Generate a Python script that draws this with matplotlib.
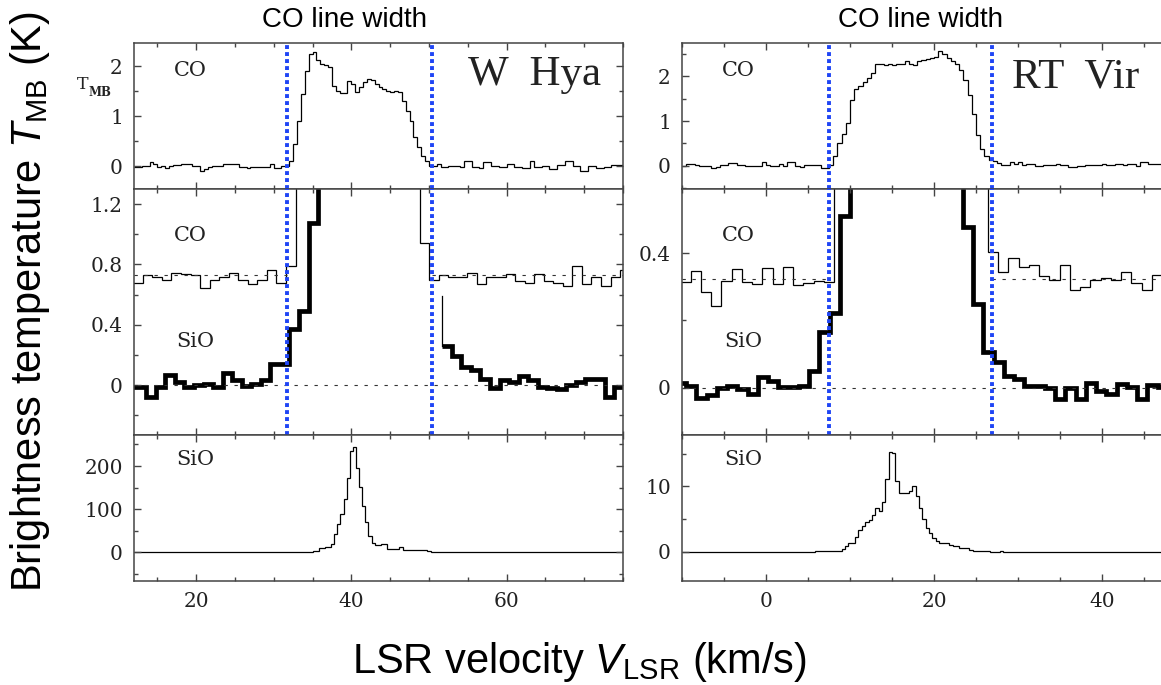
import numpy as np
import matplotlib.pyplot as plt
from matplotlib.ticker import MultipleLocator, FuncFormatter

nan = np.nan

# ---------------- W Hya ----------------
whya_xlim = (12, 75)
whya_width = [31.7, 50.4]          # CO line width markers (km/s)

# CO, top panel (0.5 km/s channels from 12 km/s)
whya_co_start, whya_co_dv = 12.0, 0.5
whya_co = [-0.02, -0.02, 0.01, 0.01, 0.08, 0.04, -0.02, 0.0, -0.04, 0.0,
           0.03, 0.03, 0.05, 0.05, 0.05, 0.01, 0.01, -0.09, -0.05, -0.02,
           0.0, 0.0, 0.0, 0.05, 0.05, 0.05, 0.05, -0.02, -0.02, -0.04,
           -0.01, -0.01, -0.02, -0.02, -0.02, 0.05, -0.04, -0.04, 0.01, 0.01,
           0.1, 0.45, 0.9, 1.45, 1.9, 2.25, 2.28, 2.13, 2.05, 2.03,
           1.98, 1.61, 1.51, 1.46, 1.46, 1.71, 1.65, 1.48, 1.58, 1.68,
           1.75, 1.73, 1.65, 1.58, 1.55, 1.5, 1.48, 1.51, 1.48, 1.31,
           1.11, 0.91, 0.58, 0.38, 0.21, 0.11, 0.01, 0.01, 0.05, -0.02,
           -0.02, 0.01, 0.01, 0.01, -0.02, 0.1, 0.1, -0.02, -0.02, -0.04,
           0.08, 0.08, 0.01, 0.01, -0.01, -0.01, 0.05, 0.05, -0.02, -0.02,
           -0.03, -0.03, 0.1, -0.01, -0.01, 0.01, 0.01, -0.05, -0.05, 0.03,
           0.03, 0.11, 0.11, 0.01, 0.01, -0.09, -0.09, 0.01, 0.01, -0.03,
           -0.03, -0.02, -0.02, 0.03, 0.03, 0.03]

# CO, middle panel (offset, coarser channels)
whya_co_mid_start, whya_co_mid_dv = 10.67, 1.23
whya_co_mid = [0.678, 0.678, 0.733, 0.72, 0.70, 0.745, 0.735, 0.73, 0.644, 0.70,
               0.72, 0.745, 0.70, 0.67, 0.70, 0.76, 0.68, 0.79,
               1.5, 2.9, 2.8, 2.4, 2.2, 2.3, 2.4, 2.3, 2.2, 2.2, 2.0, 1.6, 1.4,
               0.944, 0.70, 0.733, 0.72, 0.72, 0.744, 0.67, 0.72, 0.72, 0.74,
               0.69, 0.68, 0.74, 0.69, 0.68, 0.66, 0.79, 0.67, 0.72, 0.66,
               0.72, 0.76]
whya_co_mid_base = 0.727

# SiO, middle panel (zoomed)
whya_sio_mid_start, whya_sio_mid_dv = 11.12, 1.23
whya_sio_mid = [-0.01, -0.01, -0.078, -0.01, 0.067, 0.022, -0.01, 0.0, 0.007, -0.01,
                0.078, 0.033, -0.007, 0.011, 0.033, 0.138, 0.138, 0.371, 0.493, 1.078,
                2.0, nan, nan, nan, nan, nan, nan, nan, nan, nan, nan, nan, nan,
                0.26, 0.196, 0.122, 0.1, 0.044, -0.016, 0.033, 0.022, 0.06, 0.033,
                -0.01, -0.016, -0.022, 0.004, 0.022, 0.044, 0.044, -0.078, -0.01]
whya_sio_mid_spike = [0.59, 0.26]

# SiO, bottom panel (0.4 km/s channels from 35 km/s, zero elsewhere)
whya_sio_start, whya_sio_dv = 35.0, 0.4
whya_sio = [2.4, 2.4, 8.6, 8.6, 12, 12, 20, 42, 65, 89,
            124, 171, 236, 244, 195, 152, 108, 69, 38, 22,
            16, 16, 18, 18, 8, 8, 8, 8, 12.5, 6,
            6, 6, 6, 6, 5, 5, 5, 2]

# ---------------- RT Vir ----------------
rtvir_xlim = (-10, 48.2)
rtvir_width = [7.5, 26.9]

rtvir_co_start, rtvir_co_dv = -10.0, 0.5
rtvir_co = [0.0, 0.05, 0.05, 0.02, -0.015, -0.015, -0.015, -0.05, -0.03, 0.02,
            0.02, 0.06, 0.06, 0.02, 0.02, -0.015, -0.015, 0.0, -0.015, 0.08,
            0.02, -0.015, -0.015, 0.04, -0.015, 0.08, 0.08, 0.0, -0.03, 0.02,
            0.02, 0.02, 0.02, -0.04, -0.04, 0.02, 0.21, 0.52, 0.71, 0.95,
            1.47, 1.73, 1.79, 1.87, 1.96, 2.08, 2.27, 2.27, 2.26, 2.27,
            2.25, 2.27, 2.27, 2.34, 2.28, 2.25, 2.34, 2.37, 2.39, 2.42,
            2.43, 2.56, 2.51, 2.42, 2.34, 2.27, 2.15, 1.92, 1.58, 1.16,
            0.7, 0.37, 0.21, 0.14, 0.1, 0.06, 0.02, 0.02, 0.09, 0.05,
            0.08, 0.02, 0.04, 0.04, 0.0, 0.0, 0.02, 0.02, 0.02, 0.05,
            0.02, 0.02, -0.03, -0.03, 0.0, 0.0, 0.02, 0.02, 0.02, 0.02,
            0.04, 0.02, 0.02, 0.05, 0.05, 0.02, 0.05, 0.05, -0.015, 0.08,
            0.08, 0.05, 0.05, 0.05, 0.05, 0.05]

rtvir_co_mid_start, rtvir_co_mid_dv = -10.2, 1.22
rtvir_co_mid = [0.313, 0.348, 0.285, 0.243, 0.318, 0.353, 0.313, 0.308, 0.356, 0.308,
                0.36, 0.305, 0.31, 0.318, 0.313,
                0.7, 1.2, 1.8, 2.1, 2.3, 2.5, 2.6, 2.6, 2.6, 2.7, 2.8, 2.7, 2.4, 1.6, 0.8,
                0.403, 0.345, 0.386, 0.36, 0.363, 0.333, 0.32, 0.363, 0.291, 0.298,
                0.321, 0.325, 0.32, 0.345, 0.311, 0.29, 0.335, 0.335]
rtvir_co_mid_base = 0.323

rtvir_sio_mid_start, rtvir_sio_mid_dv = -10.74, 1.22
rtvir_sio_mid = [0.013, 0.006, -0.03, -0.022, -0.002, 0.005, -0.004, -0.017, 0.031, 0.02,
                 0.003, 0.003, 0.005, 0.05, 0.166, 0.221, 0.51,
                 1.0, 3.0, 8.0, 12.0, 14.0, 10.0, 9.0, 6.0, 3.0, 1.5, 0.9,
                 0.476, 0.25, 0.106, 0.076, 0.035, 0.025, 0.006, 0.006, -0.002, -0.032,
                 0.0, -0.034, 0.013, -0.009, -0.017, 0.011, 0.003, -0.034, 0.008, 0.003, 0.003]

rtvir_sio_start, rtvir_sio_dv = 5.8, 0.4
rtvir_sio = [0.1, 0.1, 0.1, 0.1, 0.1, 0.1, 0.1, 0.1, 0.45, 0.85,
             1.3, 1.3, 2.3, 3.3, 4.0, 4.6, 4.9, 5.7, 6.7, 6.3,
             7.6, 11.1, 15.3, 15.2, 10.8, 9.0, 9.0, 9.0, 9.3, 10.1,
             8.6, 6.7, 5.0, 3.7, 2.8, 2.1, 1.6, 1.4, 1.4, 1.3,
             1.1, 0.85, 0.85, 0.6, 0.5, 0.5, 0.25, 0.15, 0.15, 0.15,
             0.15, 0.15, -0.05, -0.05, -0.05, 0.15]

# ---------------- figure ----------------
plt.rcParams['font.family'] = ['DejaVu Serif']
plt.rcParams['mathtext.fontset'] = 'custom'
plt.rcParams['mathtext.rm'] = 'Liberation Sans'
plt.rcParams['mathtext.it'] = 'Liberation Sans:italic'

W, H = 1161, 685
fig = plt.figure(figsize=(W / 100, H / 100), dpi=100)


def box(x0, y0, x1, y1):
    return [x0 / W, 1 - y1 / H, (x1 - x0) / W, (y1 - y0) / H]


def grid(start, dv, n):
    return start + dv * np.arange(n + 1)


rows = [(43, 189), (189, 435), (435, 581)]
cols = [(134, 623), (682, 1171)]
fmt = FuncFormatter(lambda v, p: '%g' % round(v, 3))
BLUE = '#1f45f5'
DOT = (0, (3, 6))
LBL = 15


def style(ax, xlim, ylim, ymaj, ymin, labels_x):
    ax.set_xlim(xlim)
    ax.set_ylim(ylim)
    ax.xaxis.set_major_locator(MultipleLocator(20))
    ax.xaxis.set_minor_locator(MultipleLocator(5))
    ax.yaxis.set_major_locator(MultipleLocator(ymaj))
    ax.yaxis.set_minor_locator(MultipleLocator(ymin))
    ax.xaxis.set_major_formatter(fmt)
    ax.yaxis.set_major_formatter(fmt)
    ax.tick_params(which='both', direction='in', top=True, right=True,
                   color='#444', width=1.0, labelsize=14.5, labelcolor='#222',
                   labelbottom=labels_x, pad=8)
    ax.tick_params(which='major', length=5)
    ax.tick_params(which='minor', length=3)
    for s in ax.spines.values():
        s.set_color('#444')
        s.set_linewidth(1.1)


stars = [
    dict(xlim=whya_xlim, width=whya_width,
         co=(whya_co_start, whya_co_dv, whya_co),
         co_mid=(whya_co_mid_start, whya_co_mid_dv, whya_co_mid), base=whya_co_mid_base,
         sio_mid=(whya_sio_mid_start, whya_sio_mid_dv, whya_sio_mid),
         sio=(whya_sio_start, whya_sio_dv, whya_sio),
         ylims=[(-0.46, 2.46), (-0.33, 1.3), (-67, 272)],
         yticks=[(1, 0.5), (0.4, 0.2), (100, 50)], name='W  Hya', name_x=535, name_y=85),
    dict(xlim=rtvir_xlim, width=rtvir_width,
         co=(rtvir_co_start, rtvir_co_dv, rtvir_co),
         co_mid=(rtvir_co_mid_start, rtvir_co_mid_dv, rtvir_co_mid), base=rtvir_co_mid_base,
         sio_mid=(rtvir_sio_mid_start, rtvir_sio_mid_dv, rtvir_sio_mid),
         sio=(rtvir_sio_start, rtvir_sio_dv, rtvir_sio),
         ylims=[(-0.52, 2.75), (-0.14, 0.59), (-4.5, 17.9)],
         yticks=[(1, 0.5), (0.4, 0.2), (10, 5)], name='RT  Vir', name_x=1076, name_y=87),
]

for c, st in enumerate(stars):
    x0, x1 = cols[c]
    axes = [fig.add_axes(box(x0, y0, x1, y1)) for (y0, y1) in rows]
    for r, ax in enumerate(axes):
        style(ax, st['xlim'], st['ylims'][r], *st['yticks'][r], labels_x=(r == 2))

    # top: CO
    s, d, v = st['co']
    axes[0].stairs(v, grid(s, d, len(v)), baseline=None, color='k', lw=0.9)

    # middle: CO (thin) and SiO (thick)
    s, d, v = st['co_mid']
    axes[1].stairs(v, grid(s, d, len(v)), baseline=None, color='k', lw=0.9)
    s, d, v = st['sio_mid']
    e = grid(s, d, len(v))
    p = axes[1].stairs(v, e, baseline=None, color='k', lw=3.4)
    p.set_joinstyle('miter')
    lo, hi = st['xlim']
    wl, wr = st['width']
    axes[1].hlines(st['base'], lo, wl, colors='#333', lw=0.8, linestyles=DOT)
    axes[1].hlines(st['base'], wr, hi, colors='#333', lw=0.8, linestyles=DOT)
    axes[1].hlines(0, lo, hi, colors='#333', lw=0.8, linestyles=DOT)

    # bottom: SiO
    s, d, v = st['sio']
    e = np.concatenate([[lo], grid(s, d, len(v)), [hi]])
    axes[2].stairs([0] + v + [0], e, baseline=None, color='k', lw=0.9)

    # CO line width markers
    for ax in axes[:2]:
        for xv in st['width']:
            ax.axvline(xv, color=BLUE, lw=2.8, linestyle=(0, (1, 0.8)), zorder=5)

    # panel labels
    axes[0].text(0.115, 0.81, 'CO', transform=axes[0].transAxes, fontsize=LBL,
                 ha='center', va='center', color='#222')
    axes[1].text(0.115, 0.813, 'CO', transform=axes[1].transAxes, fontsize=LBL,
                 ha='center', va='center', color='#222')
    axes[1].text(0.125, 0.38, 'SiO', transform=axes[1].transAxes, fontsize=LBL,
                 ha='center', va='center', color='#222')
    axes[2].text(0.125, 0.829, 'SiO', transform=axes[2].transAxes, fontsize=LBL,
                 ha='center', va='center', color='#222')
    fig.text(st['name_x'] / W, 1 - st['name_y'] / H, st['name'], family='Liberation Serif',
             fontsize=31, ha='center', va='baseline', color='#222')

# W Hya middle SiO: thin segment where the trace re-enters the window
xs = whya_sio_mid_start + 33 * whya_sio_mid_dv
fig.axes[1].plot([xs, xs], whya_sio_mid_spike, color='k', lw=0.9)

# small T_MB label
fig.text(77 / W, 1 - 89 / H, 'T', fontsize=12.5, color='#222')
fig.text(88 / W, 1 - 96 / H, 'MB', fontsize=8.5, weight='bold', color='#222')

# titles and axis labels
for xc in (345, 920):
    fig.text(xc / W, 1 - 20 / H, 'CO line width', family='Liberation Sans',
             fontsize=20, ha='center', va='center')
fig.text(30 / W, 1 - 302 / H, r'Brightness temperature $T_{\mathrm{MB}}$ (K)',
         family='Liberation Sans', fontsize=30, rotation=90, ha='center', va='center')
fig.text(580 / W, 1 - 673 / H, r'LSR velocity $V_{\mathrm{LSR}}$ (km/s)',
         family='Liberation Sans', fontsize=30, ha='center', va='baseline')

fig.savefig('out.png', dpi=100)
